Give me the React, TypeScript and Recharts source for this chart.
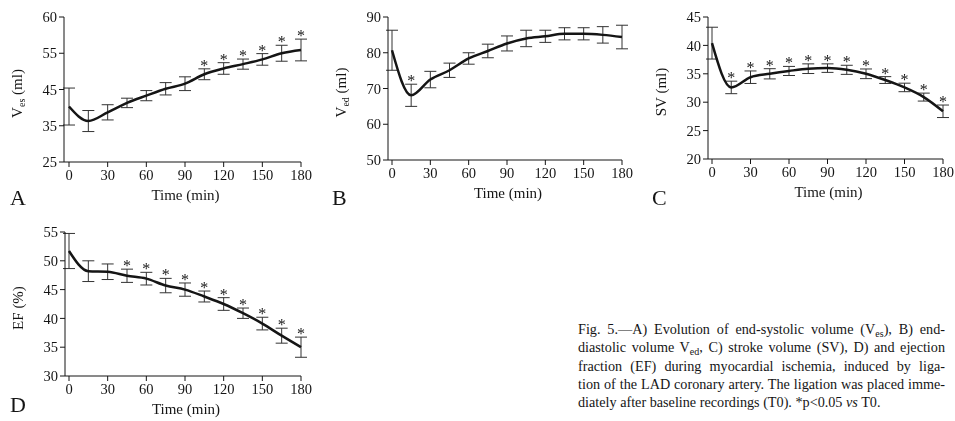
import * as React from "react"
import { LineChart, Line, XAxis, YAxis, ErrorBar, Label } from "recharts"

// sample times (min)
const TIMES = [0, 15, 30, 45, 60, 75, 90, 105, 120, 135, 150, 165, 180]
const TIME_TICKS = [0, 30, 60, 90, 120, 150, 180]

// A) end-systolic volume
const VES_MEAN = [40.3, 36.3, 38.7, 41.3, 43.3, 45.2, 46.6, 49.2, 50.8, 52.0, 53.3, 55.0, 55.9]
const VES_ERR = [5.1, 2.9, 2.1, 1.3, 1.4, 1.7, 1.9, 1.5, 1.6, 1.4, 1.6, 2.2, 3.0]
const VES_SIG = [0, 0, 0, 0, 0, 0, 0, 1, 1, 1, 1, 1, 1]
const VES_TICKS = [25, 35, 45, 55, 65]
const VES_TICK_LABELS = ["25", "35", "45", "55", "60"]

// B) end-diastolic volume
const VED_MEAN = [80.7, 68.1, 72.5, 75.1, 78.4, 80.5, 82.6, 84.0, 84.6, 85.3, 85.3, 85.0, 84.4]
const VED_ERR = [5.6, 3.1, 2.3, 2.0, 1.6, 1.9, 2.1, 2.3, 1.7, 1.7, 1.7, 2.3, 3.3]
const VED_SIG = [0, 1, 0, 0, 0, 0, 0, 0, 0, 0, 0, 0, 0]
const VED_TICKS = [50, 60, 70, 80, 90]

// C) stroke volume
const SV_MEAN = [40.4, 32.6, 34.4, 35.0, 35.5, 35.9, 36.0, 35.7, 35.0, 33.9, 32.6, 30.9, 28.4]
const SV_ERR = [2.8, 1.1, 1.1, 0.9, 0.8, 0.85, 0.75, 0.8, 0.85, 0.6, 0.75, 0.7, 1.1]
const SV_SIG = [0, 1, 1, 1, 1, 1, 1, 1, 1, 1, 1, 1, 1]
const SV_TICKS = [20, 25, 30, 35, 40, 45]

// D) ejection fraction
const EF_MEAN = [51.7, 48.2, 48.1, 47.4, 46.9, 45.7, 45.0, 43.8, 42.5, 40.9, 39.1, 37.0, 35.0]
const EF_ERR = [3.05, 1.8, 1.35, 1.15, 1.1, 1.25, 1.15, 0.95, 1.1, 0.9, 1.1, 1.3, 1.75]
const EF_SIG = [0, 0, 0, 1, 1, 1, 1, 1, 1, 1, 1, 1, 1]
const EF_TICKS = [30, 35, 40, 45, 50, 55]

const CAPTION_LINES = [
    "Fig. 5.\u2014A) Evolution of end-systolic volume (V|es|), B) end-",
    "diastolic volume V|ed|, C) stroke volume (SV), D) and ejection",
    "fraction (EF) during myocardial ischemia, induced by liga-",
    "tion of the LAD coronary artery. The ligation was placed imme-",
    "diately after baseline recordings (T0). *p<0.05 |vs| T0.",
]

const FONT = "'Liberation Serif', 'DejaVu Serif', serif"
const INK = "#151515"

const buildRows = (mean: number[], err: number[], sig: number[]) =>
    TIMES.map((t, i) => ({ t, mean: mean[i], err: err[i], top: mean[i] + err[i], sig: sig[i] }))

const renderStar = (props: any) => {
    const { cx, cy, payload, index } = props
    if (!payload || !payload.sig || cx == null || cy == null) return <g key={`s${index}`} />
    return (
        <text key={`s${index}`} x={cx} y={cy + 2} textAnchor="middle" fontFamily={FONT} fontSize={16} fill={INK}>
            {"*\uFE0E"}
        </text>
    )
}

type PanelProps = {
    left: number
    top: number
    width: number
    height: number
    marginTop: number
    marginRight: number
    yAxisWidth: number
    xAxisHeight: number
    padLeft: number
    rows: ReturnType<typeof buildRows>
    ticks: number[]
    tickLabels?: string[]
    yTitle: React.ReactNode
}

const Panel = ({ left, top, width, height, marginTop, marginRight, yAxisWidth, xAxisHeight, padLeft, rows, ticks, tickLabels, yTitle }: PanelProps) => (
    <div style={{ position: "absolute", left, top, willChange: "transform" }}>
        <LineChart width={width} height={height} data={rows} margin={{ top: marginTop, right: marginRight, left: 0, bottom: 0 }}>
            <XAxis
                dataKey="t"
                type="number"
                domain={[0, 180]}
                ticks={TIME_TICKS}
                padding={{ left: padLeft, right: 0 }}
                height={xAxisHeight}
                tickSize={5}
                tickMargin={3}
                stroke={INK}
                tick={{ fill: INK, fontSize: 14.5, fontFamily: FONT }}
            >
                <Label
                    content={(p: any) => {
                        const vb = p.viewBox || {}
                        return (
                            <text x={vb.x + vb.width / 2 + 3} y={vb.y + 38} textAnchor="middle" fontFamily={FONT} fontSize={15} fill={INK}>
                                Time (min)
                            </text>
                        )
                    }}
                />
            </XAxis>
            <YAxis
                type="number"
                domain={[ticks[0], ticks[ticks.length - 1]]}
                ticks={ticks}
                tickFormatter={(v: number) => (tickLabels ? tickLabels[ticks.indexOf(v)] : String(v))}
                width={yAxisWidth}
                tickSize={5}
                tickMargin={2}
                stroke={INK}
                tick={{ fill: INK, fontSize: 14.5, fontFamily: FONT }}
            >
                <Label
                    content={(p: any) => {
                        const vb = p.viewBox || {}
                        const cx = vb.x + vb.width - 42
                        const cy = vb.y + vb.height / 2 + 4
                        return (
                            <text x={cx} y={cy} transform={`rotate(-90 ${cx} ${cy})`} textAnchor="middle" fontFamily={FONT} fontSize={15} fill={INK}>
                                {yTitle}
                            </text>
                        )
                    }}
                />
            </YAxis>
            <Line dataKey="mean" type="monotone" stroke={INK} strokeWidth={2.5} dot={false} activeDot={false} isAnimationActive={false}>
                <ErrorBar dataKey="err" width={6} stroke="#333" strokeWidth={1} direction="y" />
            </Line>
            <Line dataKey="top" stroke="none" dot={renderStar} activeDot={false} isAnimationActive={false} />
        </LineChart>
    </div>
)

const sub = (s: string) => [
    <tspan key="a" dy={3} fontSize={10}>{s}</tspan>,
    <tspan key="b" dy={-3}> (ml)</tspan>,
]

const captionLine = (line: string, i: number, last: boolean) => {
    const parts = line.split("|")
    return (
        <div
            key={i}
            style={{ whiteSpace: "nowrap", textAlign: "justify", textAlignLast: last ? "left" : "justify", height: 18.3 }}
        >
            {parts.map((p, j) =>
                j % 2 === 1 ? (
                    p === "vs" ? <i key={j}>{p}</i> : <sub key={j} style={{ fontSize: 10, verticalAlign: "-3px", lineHeight: 0 }}>{p}</sub>
                ) : (
                    <span key={j}>{p}</span>
                )
            )}
        </div>
    )
}

const letterStyle: React.CSSProperties = { position: "absolute", fontFamily: FONT, fontSize: 22, lineHeight: 1, color: INK }

export default function App() {
    return (
        <div style={{ position: "absolute", left: 0, top: 0, width: 955, height: 421, background: "#fff", overflow: "hidden" }}>
            <Panel left={0} top={0} width={320} height={215} marginTop={17} marginRight={19} yAxisWidth={64} xAxisHeight={53} padLeft={5}
                rows={buildRows(VES_MEAN, VES_ERR, VES_SIG)} ticks={VES_TICKS} tickLabels={VES_TICK_LABELS}
                yTitle={[<tspan key="v">V</tspan>, ...sub("es")]} />
            <Panel left={320} top={0} width={320} height={215} marginTop={17} marginRight={18} yAxisWidth={68} xAxisHeight={55} padLeft={4}
                rows={buildRows(VED_MEAN, VED_ERR, VED_SIG)} ticks={VED_TICKS}
                yTitle={[<tspan key="v">V</tspan>, ...sub("ed")]} />
            <Panel left={640} top={0} width={315} height={215} marginTop={17} marginRight={12} yAxisWidth={68} xAxisHeight={56} padLeft={4}
                rows={buildRows(SV_MEAN, SV_ERR, SV_SIG)} ticks={SV_TICKS}
                yTitle="SV (ml)" />
            <Panel left={0} top={210} width={320} height={211} marginTop={22} marginRight={19} yAxisWidth={65} xAxisHeight={45} padLeft={4}
                rows={buildRows(EF_MEAN, EF_ERR, EF_SIG)} ticks={EF_TICKS}
                yTitle="EF (%)" />

            <div style={{ ...letterStyle, left: 10, top: 187 }}>A</div>
            <div style={{ ...letterStyle, left: 332, top: 187 }}>B</div>
            <div style={{ ...letterStyle, left: 652, top: 187 }}>C</div>
            <div style={{ ...letterStyle, left: 10, top: 394 }}>D</div>

            <div style={{ position: "absolute", left: 578, top: 320, width: 367, fontFamily: FONT, fontSize: 14.2, lineHeight: "18.3px", color: INK }}>
                {CAPTION_LINES.map((l, i) => captionLine(l, i, i === CAPTION_LINES.length - 1))}
            </div>
        </div>
    )
}
